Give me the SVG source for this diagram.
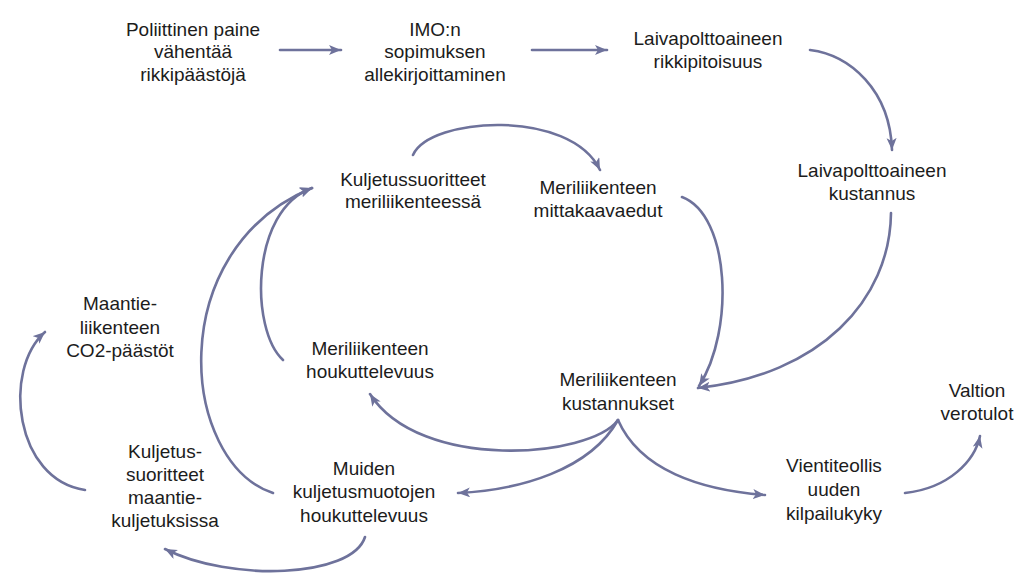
<svg xmlns="http://www.w3.org/2000/svg" width="1019" height="575" viewBox="0 0 1019 575">
  <style>
    .lbl { font-family: "Liberation Sans", Arial, sans-serif; font-size: 19px; fill: #1c1c1c; text-anchor: middle; }
    .link { fill: none; stroke: #6e729b; stroke-width: 2.6; stroke-linecap: round; marker-end: url(#head); }
  </style>
  <defs>
    <marker id="head" markerUnits="userSpaceOnUse" markerWidth="14" markerHeight="12" refX="12" refY="5" orient="auto">
      <path d="M0,0 L12,5 L0,10 L3,5 Z" fill="#6e729b"/>
    </marker>
  </defs>
  <rect width="1019" height="575" fill="#ffffff"/>

  <g id="connectors">
    <path class="link" d="M280,50 L341,50"/>
    <path class="link" d="M532,50 L607,50"/>
    <path class="link" d="M810,50 C850,55 890,90 892,150"/>
    <path class="link" d="M891,213 C890,300 820,375 698,388"/>
    <path class="link" d="M682,197 C730,215 735,330 699,386"/>
    <path class="link" d="M413,155 C430,117 570,108 600,170"/>
    <path class="link" d="M283,360 C250,330 250,210 312,188"/>
    <path class="link" d="M273,493 C180,462 162,250 312,188"/>
    <path class="link" d="M85,490 C15,480 2,370 45,332"/>
    <path class="link" d="M365,537 C352,578 230,582 165,549"/>
    <path class="link" d="M618,420 C590,458 420,472 370,394"/>
    <path class="link" d="M618,420 C590,470 520,490 458,493"/>
    <path class="link" d="M618,420 C640,470 700,490 765,495"/>
    <path class="link" d="M905,493 C950,488 975,460 980,436"/>
  </g>

  <g id="poliittinen-paine">
    <text class="lbl" x="193" y="36">Poliittinen paine</text>
    <text class="lbl" x="193" y="58">vähentää</text>
    <text class="lbl" x="193" y="81">rikkipäästöjä</text>
  </g>
  <g id="imo-sopimus">
    <text class="lbl" x="435" y="36">IMO:n</text>
    <text class="lbl" x="435" y="58">sopimuksen</text>
    <text class="lbl" x="435" y="81">allekirjoittaminen</text>
  </g>
  <g id="rikkipitoisuus">
    <text class="lbl" x="708" y="45">Laivapolttoaineen</text>
    <text class="lbl" x="708" y="68">rikkipitoisuus</text>
  </g>
  <g id="polttoaineen-kustannus">
    <text class="lbl" x="872" y="177">Laivapolttoaineen</text>
    <text class="lbl" x="872" y="200">kustannus</text>
  </g>
  <g id="kuljetussuoritteet-meri">
    <text class="lbl" x="413" y="186">Kuljetussuoritteet</text>
    <text class="lbl" x="413" y="208">meriliikenteessä</text>
  </g>
  <g id="mittakaavaedut">
    <text class="lbl" x="598" y="194">Meriliikenteen</text>
    <text class="lbl" x="598" y="217">mittakaavaedut</text>
  </g>
  <g id="co2-paastot">
    <text class="lbl" x="120" y="310">Maantie-</text>
    <text class="lbl" x="120" y="334">liikenteen</text>
    <text class="lbl" x="120" y="357">CO2-päästöt</text>
  </g>
  <g id="meri-houkuttelevuus">
    <text class="lbl" x="370" y="355">Meriliikenteen</text>
    <text class="lbl" x="370" y="378">houkuttelevuus</text>
  </g>
  <g id="meri-kustannukset">
    <text class="lbl" x="618" y="386">Meriliikenteen</text>
    <text class="lbl" x="618" y="410">kustannukset</text>
  </g>
  <g id="verotulot">
    <text class="lbl" x="977" y="397">Valtion</text>
    <text class="lbl" x="977" y="420">verotulot</text>
  </g>
  <g id="kuljetussuoritteet-maantie">
    <text class="lbl" x="165" y="458">Kuljetus-</text>
    <text class="lbl" x="165" y="481">suoritteet</text>
    <text class="lbl" x="165" y="504">maantie-</text>
    <text class="lbl" x="165" y="527">kuljetuksissa</text>
  </g>
  <g id="muiden-houkuttelevuus">
    <text class="lbl" x="364" y="475">Muiden</text>
    <text class="lbl" x="364" y="498">kuljetusmuotojen</text>
    <text class="lbl" x="364" y="522">houkuttelevuus</text>
  </g>
  <g id="kilpailukyky">
    <text class="lbl" x="834" y="472">Vientiteollis</text>
    <text class="lbl" x="834" y="496">uuden</text>
    <text class="lbl" x="834" y="520">kilpailukyky</text>
  </g>
</svg>
